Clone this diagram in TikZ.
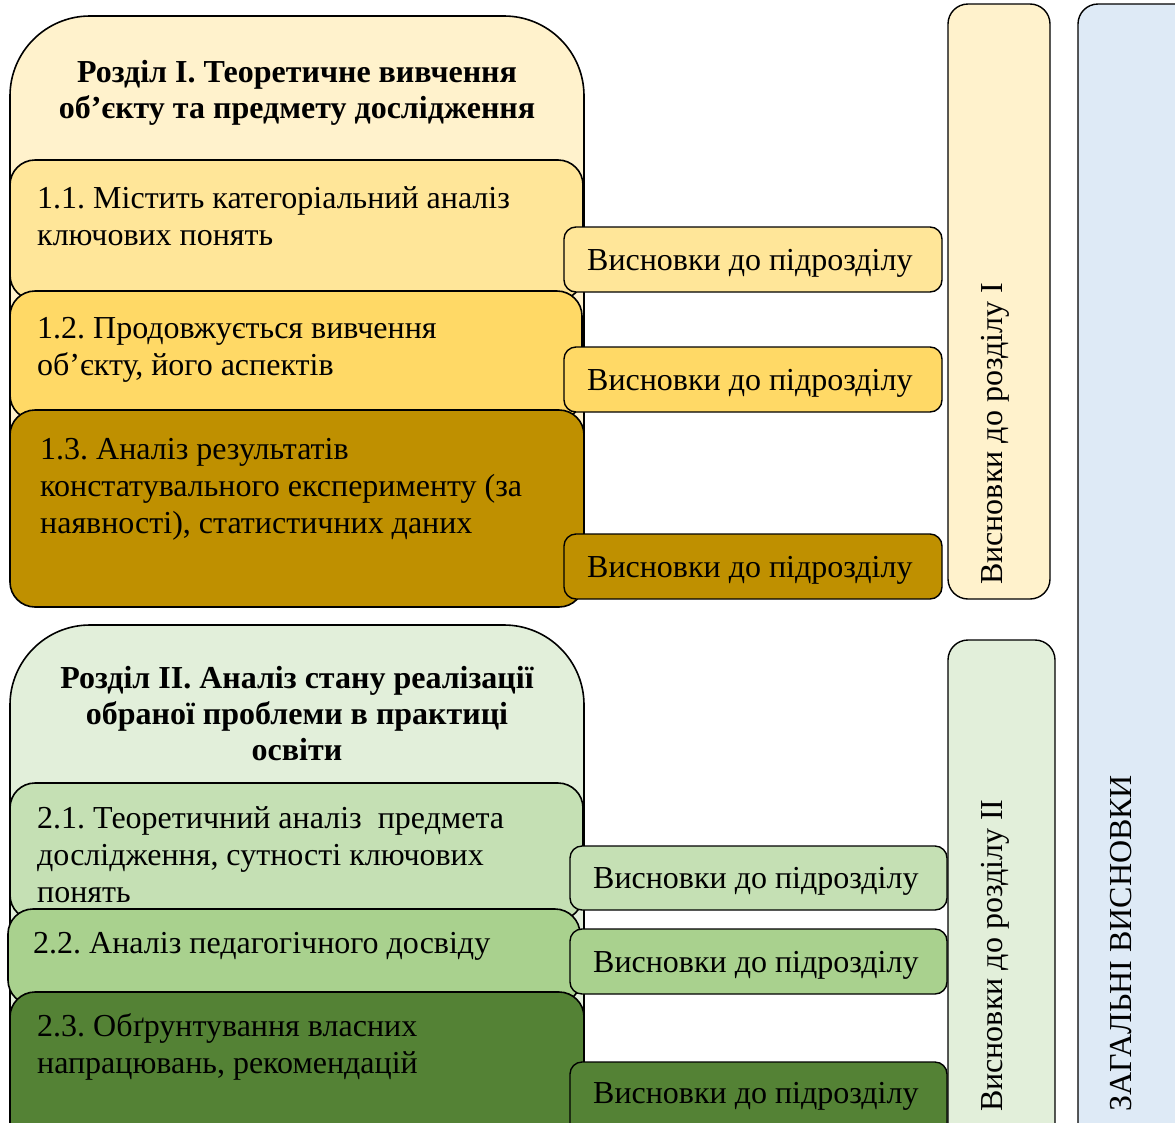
\documentclass[tikz,border=0pt]{standalone}
\usepackage{fontspec}
\setmainfont{Liberation Serif}
\frenchspacing
\definecolor{cIhead}{HTML}{FFF2CC}
\definecolor{cIa}{HTML}{FFE699}
\definecolor{cIb}{HTML}{FFD966}
\definecolor{cIc}{HTML}{BF9000}
\definecolor{cIIhead}{HTML}{E2EFDA}
\definecolor{cIIa}{HTML}{C5E0B4}
\definecolor{cIIb}{HTML}{A9D18E}
\definecolor{cIIc}{HTML}{548235}
\definecolor{cblue}{HTML}{DEEAF6}
\begin{document}
\begin{tikzpicture}[x=1pt,y=-1pt,
  shell/.style={draw=black,line width=1.6pt,rounded corners=80pt},
  subbox/.style={draw=black,line width=1.6pt,rounded corners=25pt},
  concl/.style={draw=black,line width=1.4pt,rounded corners=12pt},
  vbox/.style={draw=black,line width=1.4pt,rounded corners=20pt},
  headtxt/.style={anchor=base,inner sep=0pt,align=center,font=\fontsize{32}{36}\selectfont\bfseries},
  bodytxt/.style={anchor=base west,inner sep=0pt,align=left,font=\fontsize{32}{37}\selectfont},
  concltxt/.style={anchor=base west,inner sep=0pt,font=\fontsize{32}{37}\selectfont},
  vtxt/.style={anchor=base west,inner sep=0pt,rotate=90,font=\fontsize{32}{37}\selectfont}]
\useasboundingbox (0,0) rectangle (1175,1122);
\begin{scope}
\clip (0,0) rectangle (1175,1122);
% --- Section I boxes ---
\draw[shell,fill=cIhead] (10,16) rectangle (584,600);
\draw[subbox,fill=cIa] (10,160) rectangle (583,300);
\draw[subbox,fill=cIb] (10,291) rectangle (582,420);
\draw[subbox,fill=cIc] (10,410) rectangle (584,607);
\draw[concl,fill=cIa] (564,227) rectangle (942,292);
\draw[concl,fill=cIb] (564,347) rectangle (942,412);
\draw[concl,fill=cIc] (564,534) rectangle (942,599);
% --- Section II boxes ---
\draw[shell,fill=cIIhead] (10,625) rectangle (584,1160);
\draw[subbox,fill=cIIa] (10,783) rectangle (583,920);
\draw[subbox,fill=cIIb] (8,909) rectangle (580,1005);
\draw[subbox,fill=cIIc] (10,992) rectangle (584,1160);
\draw[concl,fill=cIIa] (570,846) rectangle (947,910);
\draw[concl,fill=cIIb] (570,929) rectangle (947,994);
\draw[concl,fill=cIIc] (570,1062) rectangle (947,1150);
% --- vertical boxes ---
\draw[vbox,fill=cIhead] (948,4) rectangle (1050,599);
\draw[vbox,fill=cIIhead] (948,640) rectangle (1055,1160);
\draw[vbox,fill=cblue] (1078,4) rectangle (1200,1160);
\end{scope}
% --- texts ---
\node[headtxt] (hI) at (297,118) {Розділ І. Теоретичне вивчення\\об’єкту та предмету дослідження};
\node[bodytxt] (t11) at (37,245) {1.1. Містить категоріальний аналіз\\ключових понять};
\node[bodytxt] (t12) at (37,375) {1.2. Продовжується вивчення\\об’єкту, його аспектів};
\node[bodytxt] (t13) at (40,533) {1.3. Аналіз результатів\\констатувального експерименту (за\\наявності), статистичних даних};
\node[concltxt] (c11) at (587,270) {Висновки до підрозділу};
\node[concltxt] (c12) at (587,390) {Висновки до підрозділу};
\node[concltxt] (c13) at (587,577) {Висновки до підрозділу};
\node[headtxt] (hII) at (297,760) {Розділ ІІ. Аналіз стану реалізації\\обраної проблеми в практиці\\освіти};
\node[bodytxt] (t21) at (37,902) {2.1. Теоретичний аналіз \ предмета\\дослідження, сутності ключових\\понять};
\node[bodytxt] (t22) at (33,953) {2.2. Аналіз педагогічного досвіду};
\node[bodytxt] (t23) at (37,1073) {2.3. Обґрунтування власних\\напрацювань, рекомендацій};
\node[concltxt] (c21) at (593,888) {Висновки до підрозділу};
\node[concltxt] (c22) at (593,972) {Висновки до підрозділу};
\node[concltxt] (c23) at (593,1103) {Висновки до підрозділу};
\node[vtxt] (vI) at (1002,585) {Висновки до розділу І};
\node[vtxt] (vII) at (1002,1112) {Висновки до розділу ІІ};
\node[vtxt] (vAll) at (1131,1112) {ЗАГАЛЬНІ ВИСНОВКИ};
\end{tikzpicture}
\end{document}
